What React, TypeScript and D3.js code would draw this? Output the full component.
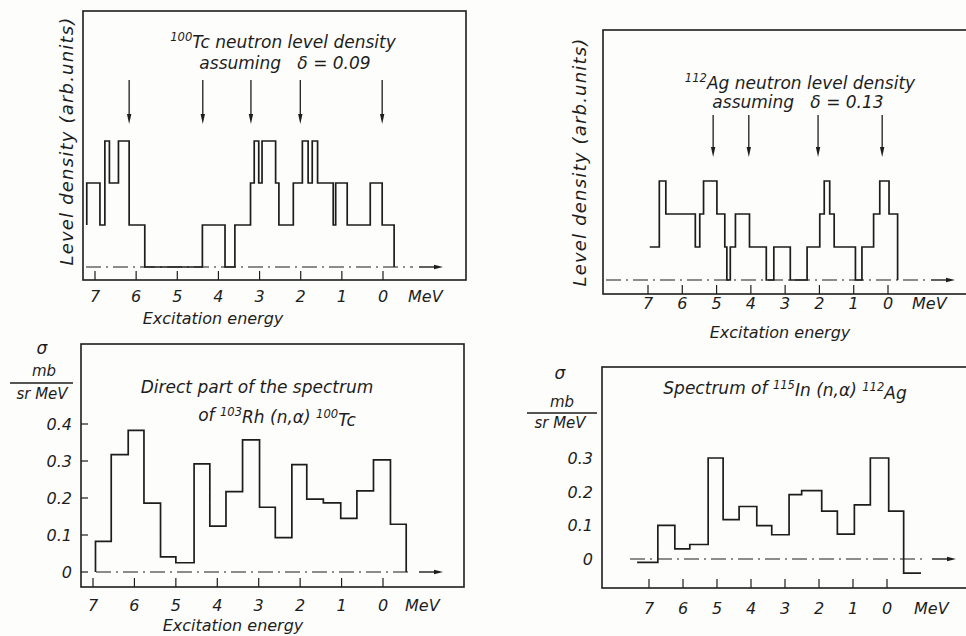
import React from "react";
import * as d3 from "d3";

// ---- data (energies in MeV, descending) ----
const tcEdges = [7.2, 6.88, 6.76, 6.65, 6.43, 6.17, 5.79, 4.39, 3.84, 3.6, 3.22, 3.13, 3.02, 2.94, 2.61, 2.53, 2.18, 1.96, 1.82, 1.72, 1.59, 1.21, 1.15, 0.87, 0.31, 0.02, -0.27];
const tcLevels = [2, 1, 3, 2, 3, 1, 0, 1, 0, 1, 2, 3, 2, 3, 2, 1, 2, 3, 2, 3, 2, 1, 2, 1, 2, 1];
const tcArrows = [6.17, 4.38, 3.21, 2.01, 0.02];

const agEdges = [6.95, 6.67, 6.48, 5.62, 5.49, 5.38, 4.99, 4.76, 4.7, 4.6, 4.45, 4.04, 3.55, 3.33, 2.85, 2.36, 1.99, 1.86, 1.7, 1.57, 0.95, 0.76, 0.42, 0.24, -0.03, -0.28];
const agLevels = [1, 3, 2, 1, 2, 3, 2, 1, 0, 1, 2, 1, 0, 1, 0, 1, 2, 3, 2, 1, 0, 1, 2, 3, 2];
const agArrows = [5.1, 4.06, 2.04, 0.17];

const rhEdges = [6.94, 6.56, 6.15, 5.77, 5.37, 5.0, 4.56, 4.18, 3.79, 3.39, 2.98, 2.6, 2.2, 1.84, 1.44, 1.02, 0.63, 0.23, -0.18, -0.56];
const rhValues = [0.083, 0.317, 0.383, 0.186, 0.041, 0.025, 0.292, 0.124, 0.217, 0.357, 0.175, 0.093, 0.29, 0.197, 0.187, 0.145, 0.219, 0.303, 0.129];

const inEdges = [7.35, 6.74, 6.24, 5.8, 5.26, 4.82, 4.35, 3.83, 3.39, 2.88, 2.51, 1.92, 1.46, 0.96, 0.49, -0.05, -0.49, -1.0];
const inValues = [-0.01, 0.1, 0.03, 0.043, 0.3, 0.117, 0.156, 0.099, 0.072, 0.191, 0.203, 0.142, 0.074, 0.161, 0.3, 0.142, -0.042];

const energyTicks = [7, 6, 5, 4, 3, 2, 1, 0];
const rhTicks = [0.4, 0.3, 0.2, 0.1, 0];
const inTicks = [0.3, 0.2, 0.1, 0];

const INK = "#1d1d1d";
const FONT = "'DejaVu Sans', Verdana, sans-serif";

function stepPath(x: any, y: any, edges: number[], vals: number[], start?: number, end?: number) {
  const p = d3.path();
  p.moveTo(x(edges[0]), y(start === undefined ? vals[0] : start));
  vals.forEach((v, i) => {
    p.lineTo(x(edges[i]), y(v));
    p.lineTo(x(edges[i + 1]), y(v));
  });
  if (end !== undefined) p.lineTo(x(edges[edges.length - 1]), y(end));
  return p.toString();
}

const Sup = ({ children }: any) => (
  <tspan fontSize="0.68em" dy="-0.45em">{children}</tspan>
);

// dash-dot zero line with a small arrow at its end
function ZeroLine({ x0, x1, y }: any) {
  return (
    <g>
      <line x1={x0} x2={x1 - 30} y1={y} y2={y} stroke={INK} strokeWidth={1.2} strokeDasharray="15 5 2 5" />
      <line x1={x1 - 24} x2={x1 - 6} y1={y} y2={y} stroke={INK} strokeWidth={1.4} />
      <path d={`M${x1},${y} L${x1 - 9},${y - 2.2} L${x1 - 9},${y + 2.2} Z`} fill={INK} />
    </g>
  );
}

function EnergyAxis({ x, bottom, labelY, meVx }: any) {
  return (
    <g>
      {energyTicks.map((t) => (
        <g key={t}>
          <line x1={x(t)} x2={x(t)} y1={bottom} y2={bottom - 9} stroke={INK} strokeWidth={1.2} />
          <text x={x(t)} y={labelY} textAnchor="middle" fontSize={16}>{t}</text>
        </g>
      ))}
      <text x={meVx} y={labelY} textAnchor="start" fontSize={16}>MeV</text>
    </g>
  );
}

function Arrows({ x, list, top, tip }: any) {
  return (
    <g>
      {list.map((e: number) => (
        <g key={e}>
          <line x1={x(e)} x2={x(e)} y1={top} y2={tip - 6} stroke={INK} strokeWidth={1.3} />
          <path d={`M${x(e)},${tip} L${x(e) - 2.2},${tip - 10} L${x(e) + 2.2},${tip - 10} Z`} fill={INK} />
        </g>
      ))}
    </g>
  );
}

function UnitLabel({ cx, ys, lineX0, lineX1 }: any) {
  return (
    <g>
      <text x={cx} y={ys[0]} textAnchor="middle" fontSize={17}>σ</text>
      <text x={cx + 2} y={ys[1]} textAnchor="middle" fontSize={15}>mb</text>
      <line x1={lineX0} x2={lineX1} y1={ys[2]} y2={ys[2]} stroke={INK} strokeWidth={1.3} />
      <text x={cx} y={ys[3]} textAnchor="middle" fontSize={15}>sr MeV</text>
    </g>
  );
}

const pre: any = { whiteSpace: "pre" };

export default function App() {
  // panel A: 100Tc level density
  const xA = d3.scaleLinear().domain([7, 0]).range([95, 383]);
  const yA = d3.scaleLinear().domain([0, 3]).range([267, 141]);
  // panel B: 112Ag level density
  const xB = d3.scaleLinear().domain([7, 0]).range([648, 888]);
  const yB = d3.scaleLinear().domain([0, 3]).range([280, 181]);
  // panel C: 103Rh(n,a) spectrum
  const xC = d3.scaleLinear().domain([7, 0]).range([93, 383]);
  const yC = d3.scaleLinear().domain([0, 0.4]).range([572, 424]);
  // panel D: 115In(n,a) spectrum
  const xD = d3.scaleLinear().domain([7, 0]).range([649, 887]);
  const yD = d3.scaleLinear().domain([0, 0.3]).range([559, 458]);

  return (
    <svg width={966} height={636} style={{ position: "absolute", left: 0, top: 0, background: "#fdfdfc" }}
      fontFamily={FONT} fontStyle="italic" fill={INK}>
      {/* ---------- Panel A ---------- */}
      <rect x={83} y={11} width={383} height={269} fill="none" stroke={INK} strokeWidth={1.6} />
      <text transform="translate(73,141) rotate(-90)" textAnchor="middle" fontSize={18} letterSpacing={1.2}>Level density (arb.units)</text>
      <text x={283} y={46} textAnchor="middle" fontSize={17}><Sup>100</Sup><tspan dy="0.45em">Tc neutron level density</tspan></text>
      <text x={285} y={69} textAnchor="middle" fontSize={17} style={pre}>assuming   δ = 0.09</text>
      <Arrows x={xA} list={tcArrows} top={80} tip={124} />
      <ZeroLine x0={86} x1={443} y={yA(0)} />
      <path d={stepPath(xA, yA, tcEdges, tcLevels, 1, 0)} fill="none" stroke={INK} strokeWidth={1.7} />
      <EnergyAxis x={xA} bottom={280} labelY={302} meVx={408} />
      <text x={213} y={324} textAnchor="middle" fontSize={16}>Excitation energy</text>

      {/* ---------- Panel B ---------- */}
      <rect x={603} y={30} width={400} height={264} fill="none" stroke={INK} strokeWidth={1.6} />
      <text transform="translate(586,162) rotate(-90)" textAnchor="middle" fontSize={18} letterSpacing={1.2}>Level density (arb.units)</text>
      <text x={800} y={87} textAnchor="middle" fontSize={17}><Sup>112</Sup><tspan dy="0.45em">Ag neutron level density</tspan></text>
      <text x={798} y={108} textAnchor="middle" fontSize={17} style={pre}>assuming   δ = 0.13</text>
      <Arrows x={xB} list={agArrows} top={115} tip={157} />
      <ZeroLine x0={606} x1={955} y={yB(0)} />
      <path d={stepPath(xB, yB, agEdges, agLevels, 1, 0)} fill="none" stroke={INK} strokeWidth={1.7} />
      <EnergyAxis x={xB} bottom={294} labelY={309} meVx={912} />
      <text x={780} y={338} textAnchor="middle" fontSize={16}>Excitation energy</text>

      {/* ---------- Panel C ---------- */}
      <rect x={81} y={344} width={383} height={243} fill="none" stroke={INK} strokeWidth={1.6} />
      <UnitLabel cx={42} ys={[354, 376, 383, 399]} lineX0={10} lineX1={73} />
      {rhTicks.map((t) => (
        <g key={t}>
          <line x1={81} x2={88} y1={yC(t)} y2={yC(t)} stroke={INK} strokeWidth={1.2} />
          <text x={72} y={yC(t) + 6} textAnchor="end" fontSize={16}>{t}</text>
        </g>
      ))}
      <text x={257} y={393} textAnchor="middle" fontSize={17}>Direct part of the spectrum</text>
      <text x={277} y={421} textAnchor="middle" fontSize={17}>
        of <Sup>103</Sup><tspan dy="0.45em">Rh (n,α) </tspan><Sup>100</Sup><tspan dy="0.45em">Tc</tspan>
      </text>
      <ZeroLine x0={96} x1={443} y={yC(0)} />
      <path d={stepPath(xC, yC, rhEdges, rhValues, 0, 0)} fill="none" stroke={INK} strokeWidth={1.7} />
      <EnergyAxis x={xC} bottom={587} labelY={611} meVx={405} />
      <text x={233} y={631} textAnchor="middle" fontSize={16}>Excitation energy</text>

      {/* ---------- Panel D ---------- */}
      <rect x={602} y={367} width={400} height={221} fill="none" stroke={INK} strokeWidth={1.6} />
      <UnitLabel cx={560} ys={[379, 407, 413, 428]} lineX0={527} lineX1={597} />
      {inTicks.map((t) => (
        <text key={t} x={593} y={yD(t) + 6} textAnchor="end" fontSize={16}>{t}</text>
      ))}
      <text x={785} y={394} textAnchor="middle" fontSize={17}>
        Spectrum of <Sup>115</Sup><tspan dy="0.45em">In (n,α) </tspan><Sup>112</Sup><tspan dy="0.45em">Ag</tspan>
      </text>
      <ZeroLine x0={630} x1={956} y={yD(0)} />
      <path d={stepPath(xD, yD, inEdges, inValues)} fill="none" stroke={INK} strokeWidth={1.7} />
      <EnergyAxis x={xD} bottom={588} labelY={614} meVx={914} />
    </svg>
  );
}
